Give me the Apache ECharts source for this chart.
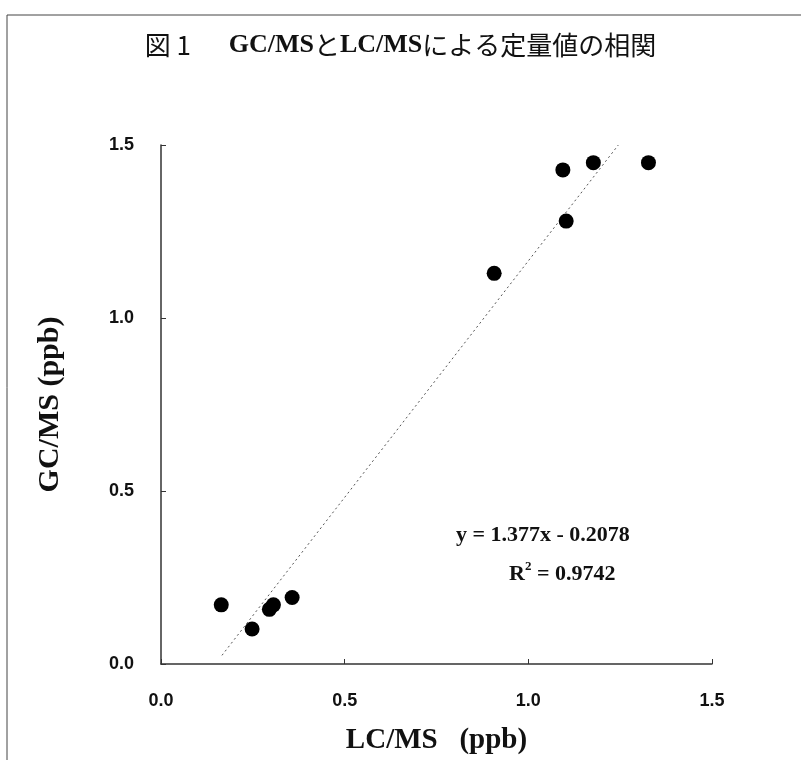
<!DOCTYPE html>
<html>
<head>
<meta charset="utf-8">
<script src="https://cdn.jsdelivr.net/npm/echarts@6/dist/echarts.min.js"></script>
<style>
  html, body { margin: 0; padding: 0; background: #fff; }
  #chart { width: 801px; height: 760px; }
</style>
</head>
<body>
<div id="chart"></div>
<script>
// LC/MS (x) vs GC/MS (y), ppb
const lcms = [0.164, 0.248, 0.295, 0.306, 0.357, 0.907, 1.103, 1.094, 1.177, 1.327]
const gcms = [0.171, 0.101, 0.158, 0.171, 0.192, 1.129, 1.280, 1.428, 1.449, 1.449]
// regression line ends, as drawn
const trendX = [0.166, 1.245]
const trendY = [0.025, 1.5]
const axisTicks = [0, 0.5, 1.0, 1.5]
// title pieces: [text, style]
const titleParts = [
  ['図 1', 'j'], ['　  ', 'j'], ['GC/MS', 'l'], ['と', 'j'], ['LC/MS', 'l'], ['による定量値の相関', 'j'],
]
const eqText = 'y = 1.377x - 0.2078'
const r2Text = '0.9742'

const chart = echarts.init(document.getElementById('chart'))

const points = lcms.map((x, i) => [x, gcms[i]])
const trend = trendX.map((x, i) => [x, trendY[i]])

const serif = '"Liberation Serif", "Times New Roman", serif'
const sans = '"Liberation Sans", Arial, sans-serif'

const option = {
  backgroundColor: '#fff',
  animation: false,
  title: {
    text: titleParts.map(p => '{' + p[1] + '|' + p[0] + '}').join(''),
    left: 'center',
    top: 27,
    textStyle: {
      rich: {
        j: { fontFamily: '"Noto Sans CJK JP", sans-serif', fontSize: 26, fontWeight: 'normal', color: '#111' },
        l: { fontFamily: serif, fontSize: 26, fontWeight: 'bold', color: '#111' },
      },
    },
  },
  grid: {
    left: 161,
    right: 89,
    top: 145,
    bottom: 96,
  },
  xAxis: {
    type: 'value',
    min: axisTicks[0],
    max: axisTicks[axisTicks.length - 1],
    interval: 0.5,
    name: 'LC/MS   (ppb)',
    nameLocation: 'middle',
    nameGap: 62,
    nameTextStyle: {
      fontFamily: serif,
      fontSize: 29,
      fontWeight: 'bold',
      color: '#111',
    },
    axisLine: { lineStyle: { color: '#333', width: 1.5 } },
    axisTick: { inside: true, length: 5, lineStyle: { color: '#333' } },
    axisLabel: {
      margin: 28,
      fontFamily: sans,
      fontSize: 18,
      fontWeight: 'bold',
      color: '#111',
      formatter: (v) => v.toFixed(1),
    },
    splitLine: { show: false },
  },
  yAxis: {
    type: 'value',
    min: axisTicks[0],
    max: axisTicks[axisTicks.length - 1],
    interval: 0.5,
    name: 'GC/MS (ppb)',
    nameLocation: 'middle',
    nameGap: 96,
    nameTextStyle: {
      fontFamily: serif,
      fontSize: 30,
      fontWeight: 'bold',
      color: '#111',
    },
    axisLine: { show: true, lineStyle: { color: '#333', width: 1.5 } },
    axisTick: { show: true, inside: true, length: 5, lineStyle: { color: '#333' } },
    axisLabel: {
      margin: 27,
      fontFamily: sans,
      fontSize: 18,
      fontWeight: 'bold',
      color: '#111',
      formatter: (v) => v.toFixed(1),
    },
    splitLine: { show: false },
  },
  graphic: [
    {
      type: 'line',
      shape: { x1: 7, y1: 15, x2: 7, y2: 760 },
      style: { stroke: '#444', lineWidth: 1 },
    },
    {
      type: 'line',
      shape: { x1: 7, y1: 15, x2: 801, y2: 15 },
      style: { stroke: '#444', lineWidth: 1 },
    },
    {
      type: 'text',
      left: 456,
      top: 524,
      style: {
        text: eqText,
        font: 'bold 22px ' + serif,
        fill: '#111',
      },
    },
    {
      type: 'text',
      left: 509,
      top: 560,
      style: {
        text: '{r|R}{s|2}{r| = ' + r2Text + '}',
        rich: {
          r: { font: 'bold 22px ' + serif, fill: '#111', verticalAlign: 'bottom' },
          s: { font: 'bold 13px ' + serif, fill: '#111', verticalAlign: 'top', padding: [0, 0, 12, 0] },
        },
      },
    },
  ],
  series: [
    {
      type: 'line',
      data: trend,
      symbol: 'none',
      lineStyle: { color: '#555', width: 1, type: [2, 3] },
      z: 1,
    },
    {
      type: 'scatter',
      data: points,
      symbol: 'circle',
      symbolSize: 15,
      itemStyle: { color: '#000', opacity: 1 },
      z: 2,
    },
  ],
}

chart.setOption(option)
</script>
</body>
</html>
